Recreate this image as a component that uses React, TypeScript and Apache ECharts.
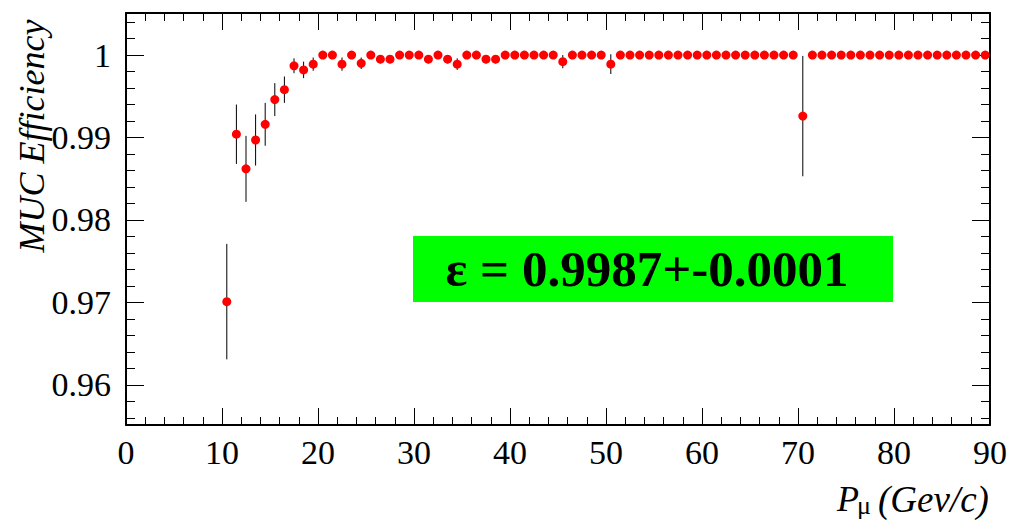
import React, { useEffect, useRef } from "react";
import * as echarts from "echarts";

const momentum = [
  10.5, 11.5, 12.5, 13.5, 14.5, 15.5, 16.5, 17.5, 18.5, 19.5,
  20.5, 21.5, 22.5, 23.5, 24.5, 25.5, 26.5, 27.5, 28.5, 29.5,
  30.5, 31.5, 32.5, 33.5, 34.5, 35.5, 36.5, 37.5, 38.5, 39.5,
  40.5, 41.5, 42.5, 43.5, 44.5, 45.5, 46.5, 47.5, 48.5, 49.5,
  50.5, 51.5, 52.5, 53.5, 54.5, 55.5, 56.5, 57.5, 58.5, 59.5,
  60.5, 61.5, 62.5, 63.5, 64.5, 65.5, 66.5, 67.5, 68.5, 69.5,
  70.5, 71.5, 72.5, 73.5, 74.5, 75.5, 76.5, 77.5, 78.5, 79.5,
  80.5, 81.5, 82.5, 83.5, 84.5, 85.5, 86.5, 87.5, 88.5, 89.5,
];

const efficiency = [
  0.9701, 0.9904, 0.9862, 0.9897, 0.9916, 0.9946, 0.9958, 0.9987, 0.9982, 0.9989,
  1, 1, 0.9989, 1, 0.999, 1, 0.9995, 0.9995, 1, 1,
  1, 0.9995, 1, 0.9995, 0.9989, 1, 1, 0.9995, 0.9995, 1,
  1, 1, 1, 1, 1, 0.9992, 1, 1, 1, 1,
  0.9989, 1, 1, 1, 1, 1, 1, 1, 1, 1,
  1, 1, 1, 1, 1, 1, 1, 1, 1, 1,
  0.9926, 1, 1, 1, 1, 1, 1, 1, 1, 1,
  1, 1, 1, 1, 1, 1, 1, 1, 1, 1,
];

const errors = [
  0.007, 0.0036, 0.004, 0.0031, 0.0026, 0.002, 0.0016, 0.0009, 0.001, 0.0008,
  0, 0, 0.0008, 0, 0.0007, 0, 0.0005, 0.0005, 0, 0,
  0, 0.0005, 0, 0.0005, 0.0007, 0, 0, 0.0005, 0.0005, 0,
  0, 0, 0, 0, 0, 0.0008, 0, 0, 0, 0,
  0.0012, 0, 0, 0, 0, 0, 0, 0, 0, 0,
  0, 0, 0, 0, 0, 0, 0, 0, 0, 0,
  0.0073, 0, 0, 0, 0, 0, 0, 0, 0, 0,
  0, 0, 0, 0, 0, 0, 0, 0, 0, 0,
];

const yMajorTicks = [0.96, 0.97, 0.98, 0.99, 1];
const yMinorTicks = [
  0.956, 0.958, 0.962, 0.964, 0.966, 0.968, 0.972, 0.974, 0.976, 0.978,
  0.982, 0.984, 0.986, 0.988, 0.992, 0.994, 0.996, 0.998, 1.002, 1.004,
];

const Y_MIN = 0.95514;
const Y_MAX = 1.0051;
const FONT = "Liberation Serif";

export default function App() {
  const ref = useRef<HTMLDivElement>(null);

  useEffect(() => {
    if (!ref.current) return;
    const chart = echarts.init(ref.current, undefined, { renderer: "svg" });
    const points = momentum.map((x, i) => [x, efficiency[i], errors[i]]);

    const xCommon = {
      type: "value",
      min: 0,
      max: 90,
      interval: 10,
      axisLine: { show: true, onZero: false, lineStyle: { color: "#000", width: 2 } },
      axisTick: { show: true, inside: true, length: 17, lineStyle: { color: "#000", width: 1 } },
      minorTick: { show: true, splitNumber: 5, length: 8, lineStyle: { color: "#000", width: 1 } },
      splitLine: { show: false },
      minorSplitLine: { show: false },
    };

    const yBase = (position: string, ticks: number[], len: number, labels: boolean, line: boolean) => ({
      type: "value",
      position,
      min: Y_MIN,
      max: Y_MAX,
      axisLine: { show: line, onZero: false, lineStyle: { color: "#000", width: 2 } },
      axisTick: {
        show: true,
        inside: true,
        length: len,
        customValues: ticks,
        lineStyle: { color: "#000", width: 1 },
      },
      axisLabel: labels
        ? {
            show: true,
            customValues: ticks,
            fontFamily: FONT,
            fontSize: 34,
            color: "#000",
            margin: 15,
            formatter: (v: number) => String(Math.round(v * 100) / 100),
          }
        : { show: false },
      splitLine: { show: false },
    });

    chart.setOption({
      animation: false,
      backgroundColor: "#fff",
      grid: { left: 126, right: 31, top: 13, bottom: 97, containLabel: false },
      xAxis: [
        {
          ...xCommon,
          position: "bottom",
          axisLabel: { show: true, fontFamily: FONT, fontSize: 34, color: "#000", margin: 10 },
        },
        { ...xCommon, position: "top", axisLabel: { show: false } },
      ],
      yAxis: [
        yBase("left", yMajorTicks, 18, true, true),
        yBase("left", yMinorTicks, 9, false, false),
        yBase("right", yMajorTicks, 18, false, true),
        yBase("right", yMinorTicks, 9, false, false),
      ],
      series: [
        {
          type: "custom",
          xAxisIndex: 0,
          yAxisIndex: 0,
          data: points,
          z: 2,
          renderItem: (params: any, api: any) => {
            const x = api.value(0);
            const y = api.value(1);
            const e = api.value(2);
            if (!e) return null;
            const p1 = api.coord([x, y + e]);
            const p2 = api.coord([x, y - e]);
            return {
              type: "line",
              shape: { x1: p1[0], y1: p1[1], x2: p2[0], y2: p2[1] },
              style: { stroke: "#000", lineWidth: 1 },
            };
          },
        },
        {
          type: "scatter",
          xAxisIndex: 0,
          yAxisIndex: 0,
          data: points.map((p) => [p[0], p[1]]),
          symbol: "circle",
          symbolSize: 9,
          itemStyle: { color: "#ff0000", opacity: 1 },
          z: 3,
        },
      ],
      graphic: [
        {
          type: "rect",
          shape: { x: 413, y: 236, width: 480, height: 66 },
          style: { fill: "#00ff00" },
          z: 10,
        },
        {
          type: "text",
          x: 647,
          y: 269,
          z: 11,
          style: {
            text: "ε = 0.9987+-0.0001",
            fontFamily: FONT,
            fontWeight: "bold",
            fontSize: 51,
            fill: "#000",
            align: "center",
            verticalAlign: "middle",
          },
        },
        {
          type: "text",
          x: 32,
          y: 136,
          rotation: Math.PI / 2,
          style: {
            text: "MUC Efficiency",
            fontFamily: FONT,
            fontStyle: "italic",
            fontSize: 36,
            fill: "#000",
            align: "center",
            verticalAlign: "middle",
          },
        },
        {
          type: "text",
          x: 837,
          y: 499,
          style: {
            text: "P",
            fontFamily: FONT,
            fontStyle: "italic",
            fontSize: 36,
            fill: "#000",
            align: "left",
            verticalAlign: "middle",
          },
        },
        {
          type: "text",
          x: 857,
          y: 505,
          style: {
            text: "μ",
            fontFamily: FONT,
            fontSize: 26,
            fill: "#000",
            align: "left",
            verticalAlign: "middle",
          },
        },
        {
          type: "text",
          x: 878,
          y: 499,
          style: {
            text: "(Gev/c)",
            fontFamily: FONT,
            fontStyle: "italic",
            fontSize: 37,
            fill: "#000",
            align: "left",
            verticalAlign: "middle",
          },
        },
      ],
    });

    return () => chart.dispose();
  }, []);

  return (
    <div
      ref={ref}
      style={{ position: "fixed", left: 0, top: 0, width: 1021, height: 522, background: "#fff" }}
    />
  );
}
